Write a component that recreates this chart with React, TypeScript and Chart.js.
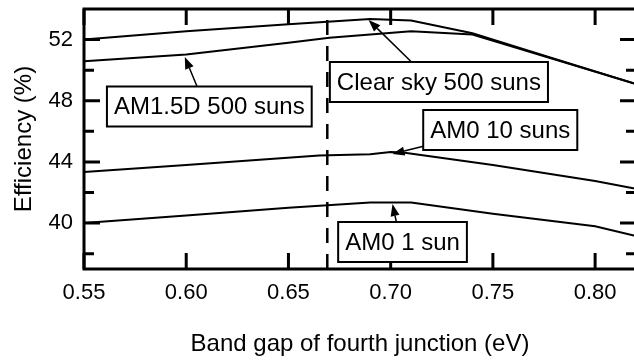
import React, { useEffect, useRef } from "react";
import { Chart, registerables } from "chart.js";

Chart.register(...registerables);

// ---- data ----
const xTicks = [0.55, 0.6, 0.65, 0.7, 0.75, 0.8];
const yTicks = [40, 44, 48, 52];
const yMinorTicks = [38, 42, 46, 50];

const clearSkyX = [0.55, 0.6, 0.65, 0.69, 0.71, 0.74, 0.778, 0.82];
const clearSkyY = [52.0, 52.55, 53.0, 53.35, 53.25, 52.42, 50.83, 49.1];

const am15dX = [0.55, 0.6, 0.65, 0.67, 0.71, 0.74, 0.778, 0.82];
const am15dY = [50.58, 51.02, 51.8, 52.12, 52.55, 52.33, 50.8, 49.1];

const am0TenX = [0.55, 0.6, 0.665, 0.69, 0.7, 0.706, 0.75, 0.8, 0.82];
const am0TenY = [43.35, 43.8, 44.42, 44.5, 44.65, 44.62, 43.8, 42.75, 42.25];

const am0OneX = [0.55, 0.6, 0.65, 0.69, 0.71, 0.75, 0.8, 0.82];
const am0OneY = [40.0, 40.5, 41.0, 41.35, 41.35, 40.62, 39.8, 39.15];

const dashedX = [0.669, 0.669];
const dashedY = [37, 54];

const calloutText = ["AM1.5D 500 suns", "Clear sky 500 suns", "AM0 10 suns", "AM0 1 sun"];
const calloutX = [0.6113, 0.7236, 0.7536, 0.7058];
const calloutY = [47.625, 49.227, 46.088, 38.765];
const arrowTailX = [0.6052, 0.7102, 0.7165, 0.7028];
const arrowTailY = [48.965, 50.535, 45.04, 40.07];
const arrowTipX = [0.5993, 0.6892, 0.7009, 0.7009];
const arrowTipY = [50.862, 53.28, 44.52, 41.25];

const FONT = "'Liberation Sans', Arial, sans-serif";

function pts(xs: number[], ys: number[]) {
  return xs.map((x, i) => ({ x, y: ys[i] }));
}

function drawArrow(ctx: CanvasRenderingContext2D, x1: number, y1: number, x2: number, y2: number) {
  const ang = Math.atan2(y2 - y1, x2 - x1);
  const L = 12;
  const W = 4.5;
  const bx = x2 - L * Math.cos(ang);
  const by = y2 - L * Math.sin(ang);
  ctx.lineWidth = 1.5;
  ctx.beginPath();
  ctx.moveTo(x1, y1);
  ctx.lineTo(bx, by);
  ctx.stroke();
  ctx.beginPath();
  ctx.moveTo(x2, y2);
  ctx.lineTo(bx + W * Math.sin(ang), by - W * Math.cos(ang));
  ctx.lineTo(bx - W * Math.sin(ang), by + W * Math.cos(ang));
  ctx.closePath();
  ctx.fill();
}

const overlayPlugin = {
  id: "overlay",
  afterDatasetsDraw(chart: any) {
    const { ctx, chartArea: a, scales } = chart;
    const x = scales.x;
    const y = scales.y;
    ctx.save();
    ctx.strokeStyle = "#000";
    ctx.fillStyle = "#000";
    ctx.lineWidth = 3;
    const major = 16;
    const minor = 10;
    ctx.beginPath();
    xTicks.forEach((v) => {
      const px = x.getPixelForValue(v);
      ctx.moveTo(px, a.bottom);
      ctx.lineTo(px, a.bottom - major);
      ctx.moveTo(px, a.top);
      ctx.lineTo(px, a.top + major);
    });
    yTicks.forEach((v) => {
      const py = y.getPixelForValue(v);
      ctx.moveTo(a.left, py);
      ctx.lineTo(a.left + major, py);
      ctx.moveTo(a.right, py);
      ctx.lineTo(a.right - major, py);
    });
    yMinorTicks.forEach((v) => {
      const py = y.getPixelForValue(v);
      ctx.moveTo(a.left, py);
      ctx.lineTo(a.left + minor, py);
      ctx.moveTo(a.right, py);
      ctx.lineTo(a.right - minor, py);
    });
    ctx.stroke();
    ctx.strokeRect(a.left, a.top, a.right - a.left, a.bottom - a.top);

    // callouts
    for (let i = 0; i < calloutText.length; i++) {
      drawArrow(
        ctx,
        x.getPixelForValue(arrowTailX[i]),
        y.getPixelForValue(arrowTailY[i]),
        x.getPixelForValue(arrowTipX[i]),
        y.getPixelForValue(arrowTipY[i])
      );
    }
    ctx.font = `24px ${FONT}`;
    ctx.textAlign = "center";
    ctx.textBaseline = "middle";
    for (let i = 0; i < calloutText.length; i++) {
      const cx = x.getPixelForValue(calloutX[i]);
      const cy = y.getPixelForValue(calloutY[i]);
      const w = ctx.measureText(calloutText[i]).width + 14;
      const h = 40;
      ctx.fillStyle = "#fff";
      ctx.fillRect(cx - w / 2, cy - h / 2, w, h);
      ctx.lineWidth = 2;
      ctx.strokeRect(cx - w / 2, cy - h / 2, w, h);
      ctx.fillStyle = "#000";
      ctx.fillText(calloutText[i], cx, cy + 1);
    }
    ctx.restore();
  },
};

export default function App() {
  const ref = useRef<HTMLCanvasElement>(null);
  useEffect(() => {
    const line = (data: any) => ({
      data,
      borderColor: "#000",
      borderWidth: 2,
      pointRadius: 0,
      tension: 0,
      fill: false,
    });
    const chart = new Chart(ref.current!, {
      type: "line",
      data: {
        datasets: [
          { ...line(pts(clearSkyX, clearSkyY)), label: "Clear sky 500 suns" },
          { ...line(pts(am15dX, am15dY)), label: "AM1.5D 500 suns" },
          { ...line(pts(am0TenX, am0TenY)), label: "AM0 10 suns" },
          { ...line(pts(am0OneX, am0OneY)), label: "AM0 1 sun" },
          {
            ...line(pts(dashedX, dashedY)),
            label: "dashed",
            borderWidth: 2.5,
            borderDash: [15, 11],
          },
        ],
      },
      options: {
        animation: false,
        responsive: false,
        maintainAspectRatio: false,
        devicePixelRatio: 1,
        layout: { padding: { left: 0, top: 9, right: 8, bottom: 0 } },
        plugins: { legend: { display: false }, tooltip: { enabled: false } },
        scales: {
          x: {
            type: "linear",
            min: 0.55,
            max: 0.82,
            grid: { display: false, drawTicks: false },
            border: { display: false },
            afterBuildTicks: (s: any) => {
              s.ticks = xTicks.map((v) => ({ value: v }));
            },
            afterFit: (s: any) => {
              s.height = 91;
              s.paddingLeft = 0;
              s.paddingRight = 0;
            },
            ticks: {
              autoSkip: false,
              maxRotation: 0,
              padding: 11,
              color: "#000",
              font: { family: FONT, size: 22 },
              callback: (v: any) => Number(v).toFixed(2),
            },
            title: {
              display: true,
              text: "Band gap of fourth junction (eV)",
              color: "#000",
              font: { family: FONT, size: 24 },
              padding: { top: 0, bottom: 1 },
            },
          },
          y: {
            min: 37,
            max: 54,
            grid: { display: false, drawTicks: false },
            border: { display: false },
            afterBuildTicks: (s: any) => {
              s.ticks = yTicks.map((v) => ({ value: v }));
            },
            afterFit: (s: any) => {
              s.width = 84;
              s.paddingTop = 0;
              s.paddingBottom = 0;
            },
            ticks: {
              autoSkip: false,
              padding: 11,
              color: "#000",
              font: { family: FONT, size: 22 },
              callback: (v: any) => String(v),
            },
            title: {
              display: true,
              text: "Efficiency (%)",
              color: "#000",
              font: { family: FONT, size: 24 },
              padding: { top: 10, bottom: 0 },
            },
          },
        },
      },
      plugins: [overlayPlugin],
    });
    return () => chart.destroy();
  }, []);
  return (
    <div
      style={{
        position: "fixed",
        left: 0,
        top: 0,
        width: 634,
        height: 360,
        overflow: "hidden",
        background: "#fff",
      }}
    >
      <canvas ref={ref} width={644} height={360} style={{ display: "block", width: 644, height: 360 }} />
    </div>
  );
}
